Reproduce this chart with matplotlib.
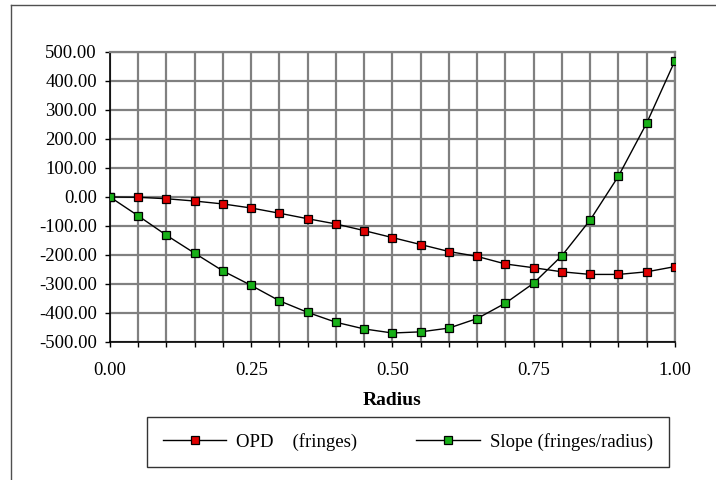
import matplotlib.pyplot as plt
from matplotlib.ticker import MultipleLocator, FuncFormatter
from matplotlib.lines import Line2D

plt.rcParams.update({
    "font.family": ["Liberation Serif", "DejaVu Serif"],
    "font.size": 13.5,
})

radius = [0.00, 0.05, 0.10, 0.15, 0.20, 0.25, 0.30, 0.35, 0.40, 0.45, 0.50,
          0.55, 0.60, 0.65, 0.70, 0.75, 0.80, 0.85, 0.90, 0.95, 1.00]
opd = [0, -1, -6, -14, -24, -38, -56, -75, -93, -116, -140,
       -164, -188, -205, -231, -244, -258, -267, -267, -258, -240]
slope = [0, -65, -132, -194, -255, -305, -358, -398, -432, -455, -469,
         -465, -452, -419, -366, -297, -202, -79, 72, 255, 470]

fig = plt.figure(figsize=(7.16, 4.8), dpi=100)
ax = fig.add_axes([0.1536, 0.2875, 0.7891, 0.6042])

ax.plot(radius, opd, color="black", lw=1, marker="s", markersize=5.5,
        markerfacecolor="#e00000", markeredgecolor="black", markeredgewidth=0.9,
        label="OPD    (fringes)", zorder=3)
ax.plot(radius, slope, color="black", lw=1, marker="s", markersize=5.5,
        markerfacecolor="#18b018", markeredgecolor="black", markeredgewidth=0.9,
        label="Slope (fringes/radius)", zorder=3)

ax.set_xlim(0, 1)
ax.set_ylim(-500, 500)
ax.xaxis.set_major_locator(MultipleLocator(0.25))
ax.xaxis.set_minor_locator(MultipleLocator(0.05))
ax.yaxis.set_major_locator(MultipleLocator(100))
fmt = FuncFormatter(lambda v, p: ("%.2f" % v).replace("-0.00", "0.00"))
ax.xaxis.set_major_formatter(fmt)
ax.yaxis.set_major_formatter(fmt)

ax.grid(True, which="both", axis="x", color="#808080", lw=1.6)
ax.grid(True, which="major", axis="y", color="#808080", lw=1.6)
ax.set_axisbelow(True)

ax.tick_params(axis="x", which="both", direction="out", length=3.5, width=1, pad=11)
ax.tick_params(axis="y", which="major", direction="out", length=3.5, width=1, pad=6)
for s in ["top", "right"]:
    ax.spines[s].set_color("#808080")
    ax.spines[s].set_linewidth(1.6)
for s in ["left", "bottom"]:
    ax.spines[s].set_color("black")
    ax.spines[s].set_linewidth(1.2)

ax.set_xlabel("Radius", fontweight="bold", fontsize=14, labelpad=9)

leg = fig.legend(loc="center", bbox_to_anchor=(0.2049, 0.0298, 0.729, 0.0988),
                 mode="expand", ncol=2, frameon=True, fancybox=False,
                 handlelength=3.4, handletextpad=0.5, borderpad=0.85,
                 borderaxespad=0, columnspacing=1.5)
leg.get_frame().set_edgecolor("black")
leg.get_frame().set_linewidth(1)

# outer chart frame
fig.add_artist(Line2D([10.7 / 716, 10.7 / 716], [0, 1 - 5.3 / 480],
                      transform=fig.transFigure, color="#505050", lw=1))
fig.add_artist(Line2D([10.7 / 716, 1], [1 - 5.3 / 480, 1 - 5.3 / 480],
                      transform=fig.transFigure, color="#505050", lw=1))

fig.savefig("out.png", dpi=100)
